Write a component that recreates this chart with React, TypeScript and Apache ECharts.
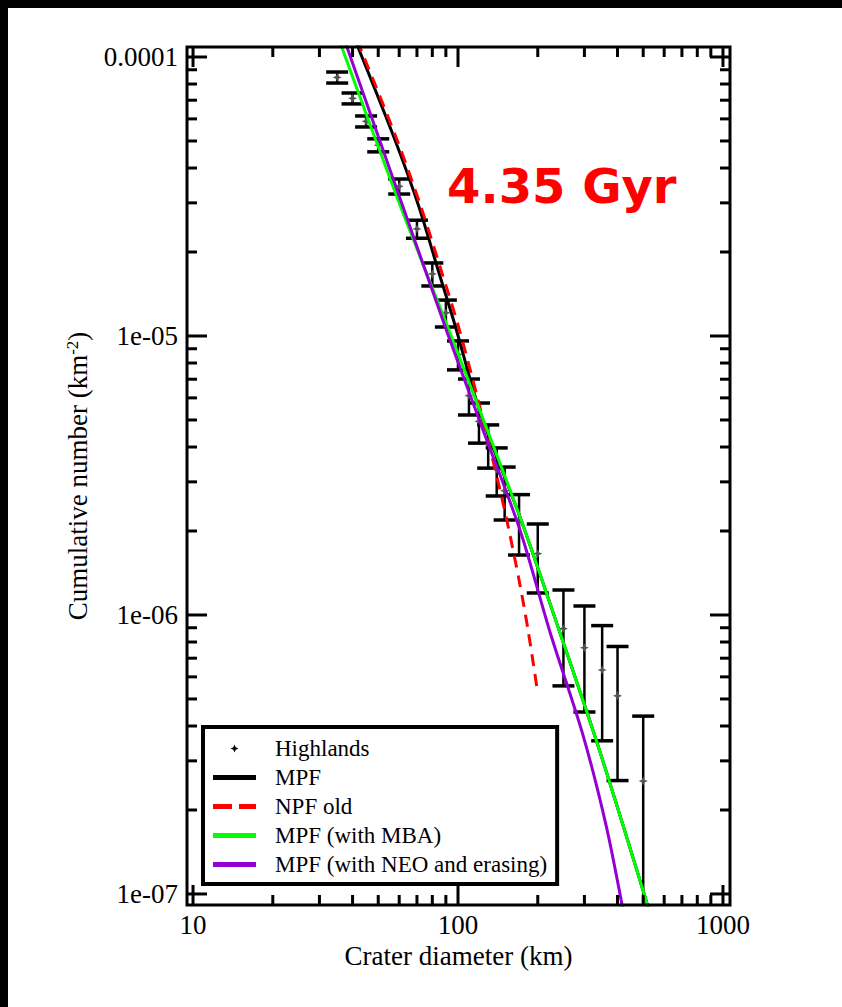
import React, { useEffect, useRef } from "react";
import * as echarts from "echarts";

// ---- axis extents (the frame reaches a little beyond the labelled decades) ----
const X_MIN = 9.49;
const X_MAX = 1063;
const Y_MIN = 9.13e-8;
const Y_MAX = 1.086e-4;

const xTickValues = [10, 100, 1000];
const xTickLabels = ["10", "100", "1000"];
const yTickValues = [1e-7, 1e-6, 1e-5, 1e-4];
const yTickLabels = ["1e-07", "1e-06", "1e-05", "0.0001"];
const minorMantissas = [2, 3, 4, 5, 6, 7, 8, 9];

// ---- Highlands cumulative crater counts ----
const highlandsDiameter = [35, 40, 45, 50, 60, 70, 80, 90, 100, 110, 120, 130, 140, 150, 170, 200, 250, 300, 350, 400, 500];
const highlandsCumulative = [
  8.45e-5, 7.11e-5, 5.88e-5, 4.83e-5, 3.44e-5, 2.42e-5, 1.669e-5, 1.211e-5, 8.58e-6, 6.11e-6, 4.94e-6,
  4.08e-6, 3.32e-6, 2.79e-6, 2.17e-6, 1.659e-6, 8.93e-7, 7.63e-7, 6.35e-7, 5.13e-7, 2.54e-7,
];
const highlandsError = [
  3.84e-6, 3.2e-6, 2.67e-6, 2.59e-6, 2.13e-6, 1.8e-6, 1.58e-6, 1.34e-6, 1.02e-6, 9.0e-7, 8.1e-7,
  7.2e-7, 6.5e-7, 6.0e-7, 5.3e-7, 4.6e-7, 3.36e-7, 3.14e-7, 2.81e-7, 2.58e-7, 1.8e-7,
];

// ---- model curves ----
const mpfDiameter = [40.9, 57.85, 71.25, 84.8, 97.4, 121.1, 171.4, 242.7, 343.5, 525.8];
const mpfValue = [1.15e-4, 5.04e-5, 2.9e-5, 1.681e-5, 1.095e-5, 5.34e-6, 2.245e-6, 8.62e-7, 3.23e-7, 8.77e-8];

const npfDiameter = [41.6, 58.9, 72.5, 87.0, 100, 119, 144, 157.1, 171.4, 183.8, 198.7];
const npfValue = [1.15e-4, 5.04e-5, 2.9e-5, 1.681e-5, 1.095e-5, 5.9e-6, 2.81e-6, 1.935e-6, 1.281e-6, 8.84e-7, 5.47e-7];

const mbaDiameter = [35.6, 59.4, 94.9, 171.4, 242.7, 343.5, 525.8];
const mbaValue = [1.15e-4, 3.07e-5, 9.84e-6, 2.245e-6, 8.62e-7, 3.23e-7, 8.77e-8];

const neoDiameter = [37.3, 60.4, 90.9, 124.3, 171.4, 222.4, 296.3, 361.8, 419.4];
const neoValue = [1.15e-4, 3.12e-5, 1.033e-5, 4.6e-6, 2.016e-6, 8.69e-7, 3.71e-7, 1.768e-7, 8.77e-8];

const seriesNames = ["Highlands", "MPF", "NPF old", "MPF (with MBA)", "MPF (with NEO and erasing)"];
const seriesColors = ["#000000", "#000000", "#ff0000", "#00ff00", "#9400d3"];

const SERIF = "'Liberation Serif', 'Times New Roman', serif";

const labelFor = (v: number, values: number[], labels: string[]) => {
  const i = values.findIndex((t) => Math.abs(Math.log10(v) - Math.log10(t)) < 1e-6);
  return i >= 0 ? labels[i] : "";
};

const pairs = (xs: number[], ys: number[]) => xs.map((x, i) => [x, ys[i]]);

const starPoints = (cx: number, cy: number, r: number) => {
  const k = 0.3;
  return [
    [cx, cy - r], [cx + r * k, cy - r * k], [cx + r, cy], [cx + r * k, cy + r * k],
    [cx, cy + r], [cx - r * k, cy + r * k], [cx - r, cy], [cx - r * k, cy - r * k],
  ];
};

const ICON_STAR = "path://M0 0L0 0ZM43 20L43 20ZM21.5 6L22.7 8.8L25.5 10L22.7 11.2L21.5 14L20.3 11.2L17.5 10L20.3 8.8Z";
const ICON_BAR = "path://M0 0L43 0L43 5L0 5Z";
const ICON_DASH = "path://M0 0L19 0L19 5L0 5ZM26 0L43 0L43 5L26 5Z";

function buildOption() {
  const lineSeries = (name: string, data: number[][], color: string, dashed = false) => ({
    name,
    type: "line",
    data,
    symbol: "none",
    smooth: 0.3,
    clip: true,
    z: 4,
    color,
    lineStyle: { color, width: 3, type: dashed ? [12, 8] : "solid" },
  });

  return {
    animation: false,
    backgroundColor: "#ffffff",
    title: {
      text: "4.35 Gyr",
      left: 447,
      top: 162,
      padding: 0,
      textStyle: { color: "#ff0000", fontSize: 48, fontWeight: "bold", fontFamily: "'DejaVu Sans', sans-serif" },
    },
    grid: { left: 187, top: 47, width: 543, height: 858, containLabel: false },
    xAxis: {
      type: "log",
      logBase: 10,
      min: X_MIN,
      max: X_MAX,
      axisLine: { show: false },
      axisTick: { show: false },
      minorTick: { show: false },
      splitLine: { show: false },
      axisLabel: {
        margin: 6,
        fontFamily: SERIF,
        fontSize: 27,
        color: "#000",
        formatter: (v: number) => labelFor(v, xTickValues, xTickLabels),
      },
      name: "Crater diameter (km)",
      nameLocation: "middle",
      nameGap: 35,
      nameTextStyle: { fontFamily: SERIF, fontSize: 27, color: "#000" },
    },
    yAxis: {
      type: "log",
      logBase: 10,
      min: Y_MIN,
      max: Y_MAX,
      axisLine: { show: false },
      axisTick: { show: false },
      minorTick: { show: false },
      splitLine: { show: false },
      axisLabel: {
        margin: 9,
        fontFamily: SERIF,
        fontSize: 27,
        color: "#000",
        formatter: (v: number) => labelFor(v, yTickValues, yTickLabels),
      },
      name: "Cumulative number (km{sup|-2})",
      nameLocation: "middle",
      nameGap: 96,
      nameRotate: 90,
      nameTextStyle: {
        fontFamily: SERIF,
        fontSize: 27,
        color: "#000",
        rich: { sup: { fontFamily: SERIF, fontSize: 17, color: "#000", verticalAlign: "top" } },
      },
    },
    legend: {
      orient: "vertical",
      left: 203,
      top: 727,
      padding: [10, 10, 8, 10],
      itemWidth: 43,
      itemHeight: 20,
      itemGap: 6,
      borderColor: "#000",
      borderWidth: 4,
      backgroundColor: "#fff",
      selectedMode: false,
      textStyle: { fontFamily: SERIF, fontSize: 23, color: "#000", padding: [0, 0, 0, 14] },
      data: [
        { name: seriesNames[0], icon: ICON_STAR, itemStyle: { color: seriesColors[0], borderWidth: 0 } },
        { name: seriesNames[1], icon: ICON_BAR, itemStyle: { color: seriesColors[1], borderWidth: 0 } },
        { name: seriesNames[2], icon: ICON_DASH, itemStyle: { color: seriesColors[2], borderWidth: 0 } },
        { name: seriesNames[3], icon: ICON_BAR, itemStyle: { color: seriesColors[3], borderWidth: 0 } },
        { name: seriesNames[4], icon: ICON_BAR, itemStyle: { color: seriesColors[4], borderWidth: 0 } },
      ],
    },
    graphic: [
      { type: "rect", shape: { x: 0, y: 0, width: 842, height: 8 }, style: { fill: "#000" }, silent: true },
      { type: "rect", shape: { x: 0, y: 0, width: 8, height: 1007 }, style: { fill: "#000" }, silent: true },
    ],
    series: [
      {
        name: seriesNames[0],
        type: "custom",
        coordinateSystem: "cartesian2d",
        clip: true,
        z: 3,
        itemStyle: { color: "#000" },
        encode: { x: 0, y: 1 },
        data: highlandsDiameter.map((d, i) => [d, highlandsCumulative[i], highlandsError[i]]),
        renderItem: (_params: any, api: any) => {
          const d = api.value(0);
          const n = api.value(1);
          const e = api.value(2);
          const p = api.coord([d, n]);
          const hi = api.coord([d, n + e]);
          const lo = api.coord([d, n - e]);
          const cap = 11;
          return {
            type: "group",
            children: [
              { type: "line", shape: { x1: p[0], y1: hi[1], x2: p[0], y2: lo[1] }, style: { stroke: "#000", lineWidth: 2.5 } },
              { type: "line", shape: { x1: p[0] - cap, y1: hi[1], x2: p[0] + cap, y2: hi[1] }, style: { stroke: "#000", lineWidth: 3.5 } },
              { type: "line", shape: { x1: p[0] - cap, y1: lo[1], x2: p[0] + cap, y2: lo[1] }, style: { stroke: "#000", lineWidth: 3.5 } },
              { type: "polygon", shape: { points: starPoints(p[0], p[1], 4.5) }, style: { fill: "#555" } },
            ],
          };
        },
      },
      lineSeries(seriesNames[1], pairs(mpfDiameter, mpfValue), seriesColors[1]),
      lineSeries(seriesNames[2], pairs(npfDiameter, npfValue), seriesColors[2], true),
      lineSeries(seriesNames[3], pairs(mbaDiameter, mbaValue), seriesColors[3]),
      lineSeries(seriesNames[4], pairs(neoDiameter, neoValue), seriesColors[4]),
      {
        name: "frame",
        type: "custom",
        coordinateSystem: "cartesian2d",
        clip: false,
        silent: true,
        z: 6,
        data: [[100, 1e-5]],
        renderItem: (_params: any, api: any) => {
          const bl = api.coord([X_MIN, Y_MIN]);
          const tr = api.coord([X_MAX, Y_MAX]);
          const children: any[] = [];
          const st = { stroke: "#000", lineWidth: 3 };
          children.push({
            type: "rect",
            shape: { x: bl[0], y: tr[1], width: tr[0] - bl[0], height: bl[1] - tr[1] },
            style: { fill: "none", stroke: "#000", lineWidth: 3 },
          });
          const xt: { v: number; major: boolean }[] = [];
          xTickValues.forEach((t, i) => {
            xt.push({ v: t, major: true });
            if (i < xTickValues.length - 1) minorMantissas.forEach((m) => xt.push({ v: t * m, major: false }));
          });
          xt.forEach(({ v, major }) => {
            if (v < X_MIN || v > X_MAX) return;
            const x = api.coord([v, Y_MIN])[0];
            const len = major ? 20 : 10;
            children.push({ type: "line", shape: { x1: x, y1: bl[1], x2: x, y2: bl[1] - len }, style: st });
            children.push({ type: "line", shape: { x1: x, y1: tr[1], x2: x, y2: tr[1] + len }, style: st });
          });
          const yt: { v: number; major: boolean }[] = [];
          yTickValues.forEach((t, i) => {
            yt.push({ v: t, major: true });
            if (i < yTickValues.length - 1) minorMantissas.forEach((m) => yt.push({ v: t * m, major: false }));
          });
          yt.forEach(({ v, major }) => {
            if (v < Y_MIN || v > Y_MAX) return;
            const y = api.coord([X_MIN, v])[1];
            const len = major ? 20 : 10;
            children.push({ type: "line", shape: { x1: bl[0], y1: y, x2: bl[0] + len, y2: y }, style: st });
            children.push({ type: "line", shape: { x1: tr[0], y1: y, x2: tr[0] - len, y2: y }, style: st });
          });
          return { type: "group", children };
        },
      },
    ],
  };
}

export default function App() {
  const ref = useRef<HTMLDivElement>(null);
  useEffect(() => {
    if (!ref.current) return;
    const chart = echarts.init(ref.current, null, { renderer: "svg" });
    chart.setOption(buildOption() as any);
    return () => chart.dispose();
  }, []);
  return (
    <div style={{ position: "fixed", left: 0, top: 0, width: 842, height: 1007, background: "#fff" }}>
      <div ref={ref} style={{ width: 842, height: 1007 }} />
    </div>
  );
}
